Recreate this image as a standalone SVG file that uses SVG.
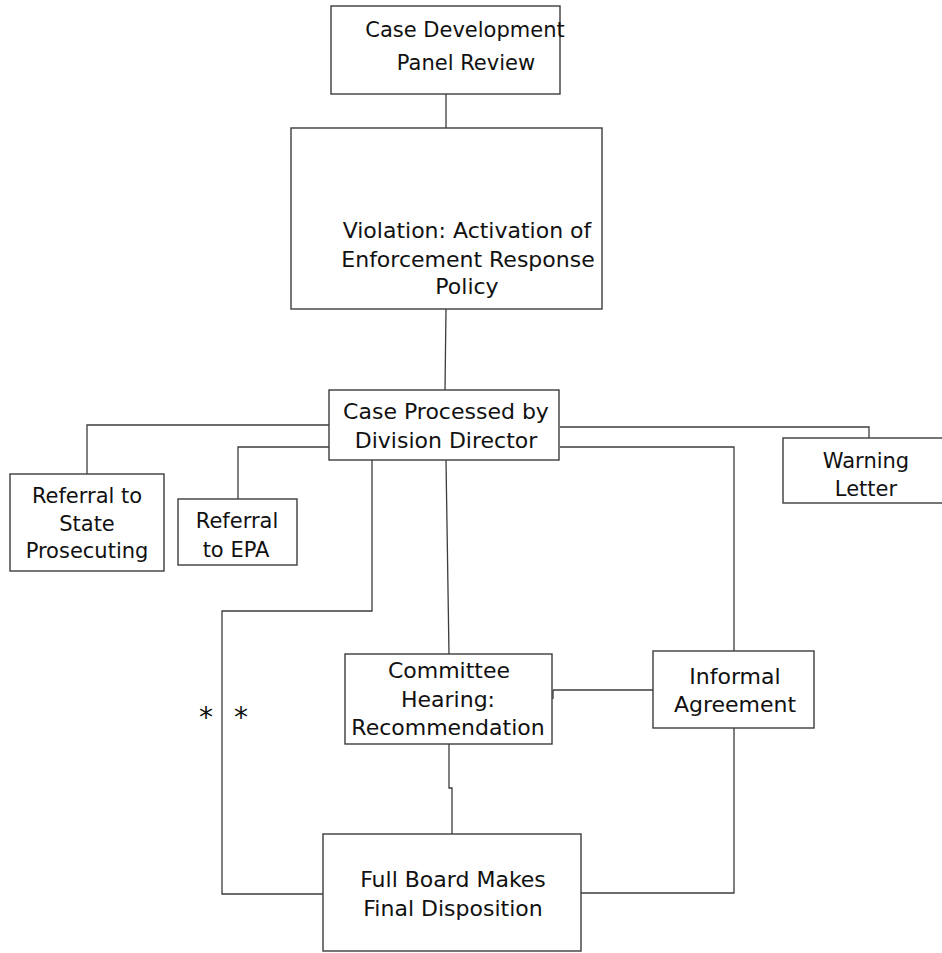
<svg xmlns="http://www.w3.org/2000/svg" width="942" height="953" viewBox="0 0 942 953">
<style>
.box{fill:#fff;stroke:#3c3c3c;stroke-width:1.4}
.ln{fill:none;stroke:#3c3c3c;stroke-width:1.3}
text{font-family:"DejaVu Sans","Liberation Sans",sans-serif;font-size:22px;fill:#111;text-anchor:middle}
.s21{font-size:21px}
.ast{font-size:28px}
</style>
<rect width="942" height="953" fill="#fff"/>
<g id="connectors">
<line class="ln" x1="446" y1="94" x2="446" y2="128"/>
<line class="ln" x1="446" y1="309" x2="445" y2="390"/>
<polyline class="ln" points="329,425 87,425 87,474"/>
<polyline class="ln" points="329,447 238,447 238,499"/>
<polyline class="ln" points="560,427 869,427 869,438"/>
<polyline class="ln" points="560,447 734,447 734,651"/>
<line class="ln" x1="446" y1="460" x2="449" y2="654"/>
<polyline class="ln" points="372,460 372,611 222,611 222,894 333,894"/>
<line class="ln" x1="553" y1="690" x2="653" y2="690"/>
<line class="ln" x1="553" y1="690" x2="553" y2="699"/>
<polyline class="ln" points="449,744 449,788 452,788 452,834"/>
<polyline class="ln" points="734,728 734,893 581,893"/>
</g>
<g id="case-development">
<rect class="box" x="331" y="6" width="229" height="88"/>
<text class="s21" x="465" y="37">Case Development</text>
<text class="s21" x="466" y="70">Panel Review</text>
</g>
<g id="violation">
<rect class="box" x="291" y="128" width="311" height="181"/>
<text x="467" y="238">Violation: Activation of</text>
<text x="468" y="267">Enforcement Response</text>
<text x="467" y="294">Policy</text>
</g>
<g id="case-processed">
<rect class="box" x="329" y="390" width="230" height="70"/>
<text x="446" y="419">Case Processed by</text>
<text x="446" y="448">Division Director</text>
</g>
<g id="referral-state">
<rect class="box" x="10" y="474" width="154" height="97"/>
<text class="s21" x="87" y="503">Referral to</text>
<text class="s21" x="87" y="531">State</text>
<text class="s21" x="87" y="558">Prosecuting</text>
</g>
<g id="referral-epa">
<rect class="box" x="178" y="499" width="119" height="66"/>
<text class="s21" x="237" y="528">Referral</text>
<text class="s21" x="236" y="557">to EPA</text>
</g>
<g id="warning-letter">
<rect class="box" x="783" y="438" width="162" height="65"/>
<text class="s21" x="866" y="468">Warning</text>
<text class="s21" x="866" y="496">Letter</text>
</g>
<g id="committee-hearing">
<rect class="box" x="345" y="654" width="207" height="90"/>
<text x="449" y="678">Committee</text>
<text x="448" y="707">Hearing:</text>
<text x="448" y="735">Recommendation</text>
</g>
<g id="informal-agreement">
<rect class="box" x="653" y="651" width="161" height="77"/>
<text x="735" y="684">Informal</text>
<text x="735" y="712">Agreement</text>
</g>
<g id="full-board">
<rect class="box" x="323" y="834" width="258" height="117"/>
<text x="453" y="887">Full Board Makes</text>
<text x="453" y="916">Final Disposition</text>
</g>
<g id="asterisks">
<text class="ast" x="206" y="727">*</text>
<text class="ast" x="241" y="727">*</text>
</g>
</svg>
